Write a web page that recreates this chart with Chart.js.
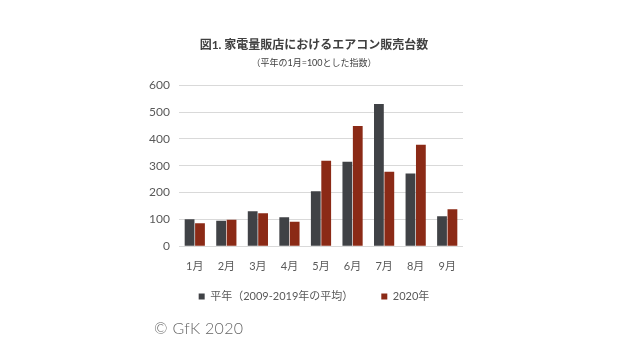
<!DOCTYPE html>
<html>
<head>
<meta charset="utf-8">
<script src="https://cdn.jsdelivr.net/npm/chart.js@4.4.1/dist/chart.umd.min.js"></script>
<style>
  html, body { margin: 0; padding: 0; background: #fff; }
  #wrap { position: relative; width: 638px; height: 363px; }
  #credit {
    position: absolute; left: 154px; top: 318px;
    font-family: Lato, 'Noto Sans CJK JP', sans-serif;
    font-size: 16px; font-weight: 300; color: #666; letter-spacing: 0.3px;
  }
</style>
</head>
<body>
<div id="wrap">
  <canvas id="chart" width="638" height="363"></canvas>
  <div id="credit">© GfK 2020</div>
</div>
<script>
const months = ['1月', '2月', '3月', '4月', '5月', '6月', '7月', '8月', '9月'];
const normalYear = [101, 95, 131, 108, 205, 315, 530, 271, 112];
const year2020 = [86, 99, 123, 91, 319, 448, 278, 378, 138];
const seriesNames = ['平年（2009-2019年の平均）', '2020年'];

const FONT = "Lato, 'Noto Sans CJK JP', sans-serif";

const ctx = document.getElementById('chart').getContext('2d');
new Chart(ctx, {
  type: 'bar',
  data: {
    labels: months,
    datasets: [
      {
        label: seriesNames[0],
        data: normalYear,
        backgroundColor: '#404246'
      },
      {
        label: seriesNames[1],
        data: year2020,
        backgroundColor: '#8b2a16'
      }
    ]
  },
  options: {
    responsive: false,
    animation: false,
    datasets: {
      bar: { categoryPercentage: 0.66, barPercentage: 0.94 }
    },
    layout: {
      padding: { left: 130, right: 140, top: 38, bottom: 51 }
    },
    scales: {
      x: {
        grid: { display: false },
        border: { display: false },
        ticks: { color: '#595959', font: { family: FONT, size: 11 }, padding: 6 }
      },
      y: {
        min: 0,
        max: 600,
        ticks: { stepSize: 100, color: '#595959', font: { family: FONT, size: 12 }, padding: 9 },
        grid: { color: '#d9d9d9', drawTicks: false },
        border: { display: false },
        afterFit: scale => { scale.width = 49; }
      },
      pad: {
        position: 'right',
        min: 0,
        max: 600,
        grid: { display: false },
        border: { display: false },
        ticks: { display: false },
        afterFit: scale => { scale.width = 35; }
      }
    },
    plugins: {
      title: {
        display: true,
        text: '図1. 家電量販店におけるエアコン販売台数',
        color: '#404040',
        font: { family: FONT, size: 12, weight: 'bold' },
        padding: { top: 0, bottom: 5 }
      },
      subtitle: {
        display: true,
        text: '（平年の1月=100とした指数）',
        color: '#404040',
        font: { family: FONT, size: 9 },
        padding: { top: 0, bottom: 17 }
      },
      legend: {
        position: 'bottom',
        labels: {
          boxWidth: 6,
          boxHeight: 6,
          padding: 11.5,
          color: '#595959',
          font: { family: FONT, size: 11 },
          generateLabels: chart => {
            const items = Chart.defaults.plugins.legend.labels.generateLabels(chart);
            // widen the gap between the two entries like the original
            items[0].text = items[0].text + '\u3000\u3000';
            return items;
          }
        }
      },
      tooltip: { enabled: false }
    }
  }
});
</script>
</body>
</html>
